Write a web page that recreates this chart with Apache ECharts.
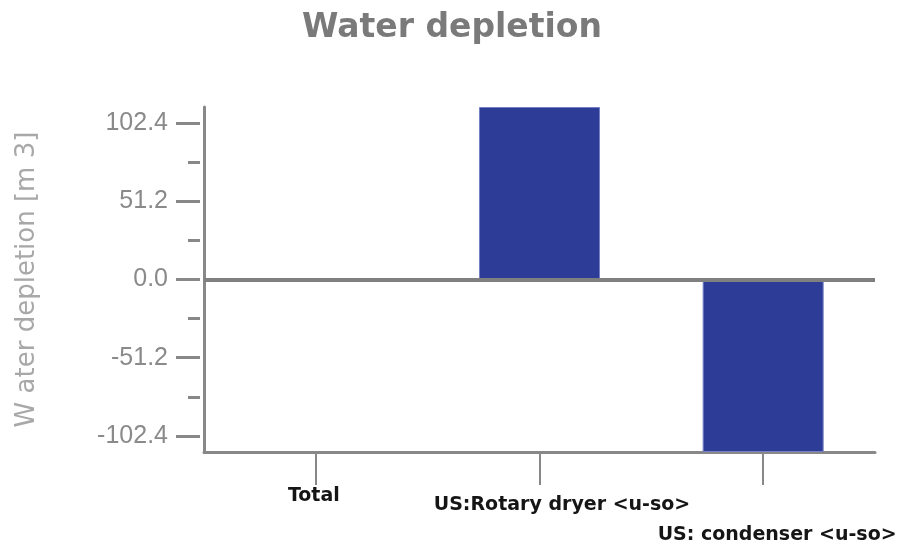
<!DOCTYPE html>
<html>
<head>
<meta charset="utf-8">
<script src="https://cdn.jsdelivr.net/npm/echarts@6/dist/echarts.min.js"></script>
<style>
  html, body { margin: 0; padding: 0; background: #fff; }
  #chart { width: 904px; height: 544px; }
</style>
</head>
<body>
<div id="chart"></div>
<script>
// data
const categories = ['Total', 'US:Rotary dryer <u-so>', 'US: condenser <u-so>'];
const depletion = [0, 112.9, -112.9];
const majorTicks = [-102.4, -51.2, 0, 51.2, 102.4];
const minorTicks = [-76.8, -25.6, 25.6, 76.8];
const axisMin = -112.9;
const axisMax = 112.9;

const chart = echarts.init(document.getElementById('chart'));

// each category label sits at its own spot under the axis
const labelKeys = ['a', 'b', 'c'];
const catFont = { fontFamily: 'DejaVu Sans', fontWeight: 'bold', fontSize: 19, color: '#151515' };

const yBase = {
  type: 'value',
  position: 'left',
  min: axisMin,
  max: axisMax,
  splitLine: { show: false }
};

chart.setOption({
  animation: false,
  title: {
    text: 'Water depletion',
    left: 'center',
    top: 7,
    textStyle: {
      fontFamily: 'DejaVu Sans',
      fontWeight: 'bold',
      fontSize: 33,
      color: '#7a7a7a'
    }
  },
  grid: { left: 204, right: 29, top: 107, bottom: 92, outerBoundsMode: 'none' },
  xAxis: {
    type: 'category',
    data: categories,
    axisLine: { onZero: false, lineStyle: { color: '#888', width: 3 } },
    axisTick: { show: true, alignWithLabel: true, length: 33, lineStyle: { color: '#888', width: 2 } },
    axisLabel: {
      interval: 0,
      margin: 35,
      ...catFont,
      formatter: (v, i) => '{' + labelKeys[i] + '|' + v + '}',
      rich: {
        a: { ...catFont, padding: [0, 4, 0, 0] },
        b: { ...catFont, padding: [9, 0, 0, 45] },
        c: { ...catFont, padding: [39, 0, 0, 28] }
      }
    }
  },
  yAxis: [
    // plain axis line
    Object.assign({}, yBase, {
      axisLine: { show: true, lineStyle: { color: '#888', width: 3 } },
      axisTick: { show: false },
      axisLabel: { show: false }
    }),
    // major ticks and labels
    Object.assign({}, yBase, {
      offset: 4,
      name: 'W ater depletion [m 3]',
      nameLocation: 'middle',
      nameGap: 160,
      nameTextStyle: { fontFamily: 'DejaVu Sans', fontSize: 26, color: '#a8a8a8' },
      axisLine: { show: false },
      axisTick: { show: true, length: 24, customValues: majorTicks, lineStyle: { color: '#888', width: 3 } },
      axisLabel: {
        customValues: majorTicks,
        margin: 32,
        fontFamily: 'Liberation Sans',
        fontSize: 25,
        color: '#8a8a8a',
        formatter: v => v.toFixed(1)
      }
    }),
    // minor ticks
    Object.assign({}, yBase, {
      offset: 4,
      axisLine: { show: false },
      axisTick: { show: true, length: 12, customValues: minorTicks, lineStyle: { color: '#888', width: 3 } },
      axisLabel: { show: false }
    })
  ],
  series: [
    {
      type: 'bar',
      data: depletion,
      barWidth: 121,
      itemStyle: { color: '#2d3c97', borderColor: '#7580c4', borderWidth: 1 },
      markLine: {
        silent: true,
        symbol: 'none',
        label: { show: false },
        lineStyle: { color: '#808080', width: 4, type: 'solid' },
        data: [{ yAxis: 0 }]
      }
    }
  ]
});
</script>
</body>
</html>
